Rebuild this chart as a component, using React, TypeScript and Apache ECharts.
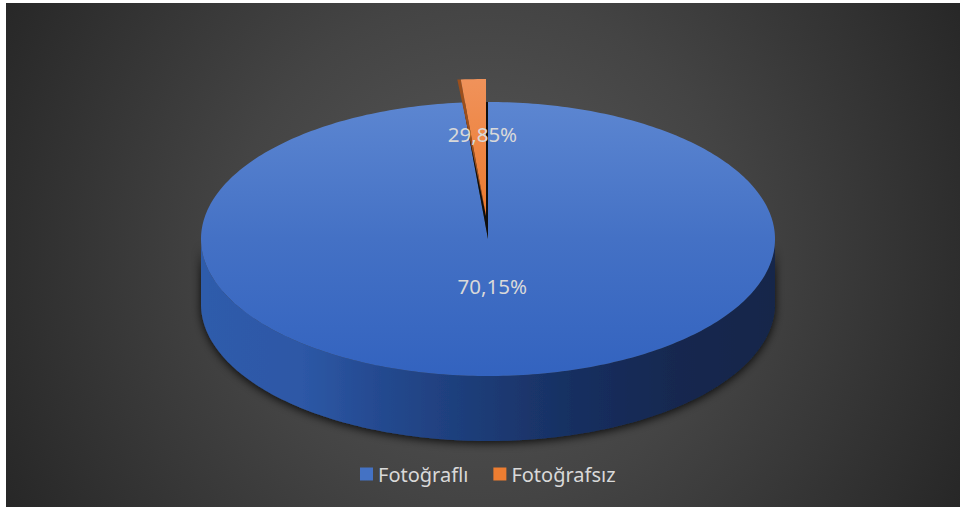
import React, { useEffect, useRef } from "react";
import * as echarts from "echarts";

// ---- data ----
const categories = ["Fotoğraflı", "Fotoğrafsız"];
const percentLabels = [70.15, 29.85]; // data labels printed on the chart
const sliceShares = [98.6, 1.4]; // wedge sizes as drawn in the picture
const legendColors = ["#4472c4", "#ed7d31"];

// ---- geometry (layout) ----
const CX = 488;
const CY = 239;
const RX = 287;
const RY = 137;
const DEPTH = 65;
const EXPLODE: number[][] = [
  [0, 0],
  [-2, -23],
];
const LABEL_R = [0.34, 0.6];

const total = sliceShares.reduce((a, b) => a + b, 0);
const starts: number[] = [];
{
  let acc = 0;
  for (const v of sliceShares) {
    starts.push((acc / total) * 360);
    acc += v;
  }
}

function pt(deg: number, ox = 0, oy = 0, dz = 0, k = 1): number[] {
  const r = (deg * Math.PI) / 180;
  return [CX + ox + k * RX * Math.sin(r), CY + oy + dz - k * RY * Math.cos(r)];
}

function arc(a0: number, a1: number, ox = 0, oy = 0, dz = 0): number[][] {
  const pts: number[][] = [];
  const n = Math.max(2, Math.ceil(Math.abs(a1 - a0) / 1));
  for (let i = 0; i <= n; i++) {
    pts.push(pt(a0 + ((a1 - a0) * i) / n, ox, oy, dz));
  }
  return pts;
}

const fmt = (v: number) => v.toFixed(2).replace(".", ",") + "%";

const FONT = "'Noto Sans', 'Open Sans', sans-serif";

function sideGradient() {
  return new echarts.graphic.LinearGradient(
    205,
    0,
    775,
    0,
    [
      { offset: 0, color: "#2f5bab" },
      { offset: 0.17, color: "#2d58a6" },
      { offset: 0.31, color: "#24498f" },
      { offset: 0.48, color: "#1d3c77" },
      { offset: 0.66, color: "#172e5f" },
      { offset: 0.83, color: "#14284f" },
      { offset: 1, color: "#13264a" },
    ],
    true
  );
}

function topGradient(i: number) {
  if (i === 1) {
    return new echarts.graphic.LinearGradient(
      0,
      80,
      0,
      216,
      [
        { offset: 0, color: "#f0925a" },
        { offset: 1, color: "#ec7a2e" },
      ],
      true
    );
  }
  return new echarts.graphic.LinearGradient(
    0,
    102,
    0,
    376,
    [
      { offset: 0, color: "#5c86d1" },
      { offset: 0.5, color: "#4471c5" },
      { offset: 1, color: "#3363bf" },
    ],
    true
  );
}

function makeRender(i: number) {
  return function renderItem(_params: any, _api: any) {
    const a0 = starts[i];
    const a1 = starts[i] + (sliceShares[i] / total) * 360;
    const [ox, oy] = EXPLODE[i];
    const children: any[] = [];

    if (i > 0) {
      // dark gap left behind by the exploded wedge
      children.push({
        type: "polygon",
        shape: { points: [[CX, CY]].concat(arc(a0, a1)) },
        style: { fill: "#0e0e0e" },
      });
    }

    // front side wall
    const lo = Math.max(a0, 90);
    const hi = Math.min(a1, 270);
    if (hi > lo) {
      const pts = arc(lo, hi, ox, oy, 0).concat(arc(hi, lo, ox, oy, DEPTH));
      children.push({
        type: "polygon",
        shape: { points: pts },
        style: {
          fill: sideGradient(),
          shadowBlur: 10,
          shadowColor: "rgba(0,0,0,0.85)",
          shadowOffsetY: 2,
        },
      });
    }

    if (i > 0) {
      // thin radial face on the left edge of the wedge
      const outer = pt(a0, ox, oy);
      children.push({
        type: "polygon",
        shape: {
          points: [
            [CX + ox, CY + oy],
            [outer[0] - 3.5, outer[1]],
            [outer[0], outer[1]],
          ],
        },
        style: { fill: "#9c4f1c" },
      });
    }

    // top face
    children.push({
      type: "polygon",
      shape: { points: [[CX + ox, CY + oy]].concat(arc(a0, a1, ox, oy, 0)) },
      style: { fill: topGradient(i) },
    });

    // data label
    const mid = (a0 + a1) / 2;
    const lp = pt(mid, ox, oy, 0, LABEL_R[i]);
    children.push({
      type: "text",
      style: {
        text: fmt(percentLabels[i]),
        x: lp[0] + (i === 1 ? 4 : 0),
        y: lp[1],
        fill: "#d9d9d9",
        fontSize: 20.5,
        fontFamily: FONT,
        align: "center",
        verticalAlign: "middle",
      },
    });

    return { type: "group", children };
  };
}

export default function App() {
  const ref = useRef<HTMLDivElement>(null);

  useEffect(() => {
    if (!ref.current) return;
    const chart = echarts.init(ref.current, undefined, { renderer: "svg" });
    chart.setOption({
      animation: false,
      backgroundColor: "#ffffff",
      graphic: [
        {
          type: "rect",
          z: -10,
          silent: true,
          shape: { x: 6, y: 3, width: 954, height: 504 },
          style: {
            fill: new echarts.graphic.RadialGradient(
              483,
              250,
              560,
              [
                { offset: 0, color: "#585858" },
                { offset: 0.45, color: "#444444" },
                { offset: 1, color: "#252525" },
              ],
              true
            ),
          },
        },
      ],
      legend: {
        data: categories,
        left: 355,
        top: 459,
        icon: "rect",
        itemWidth: 13,
        itemHeight: 13,
        itemGap: 25,
        textStyle: { color: "#d9d9d9", fontSize: 20, fontFamily: FONT },
      },
      series: categories.map((name, i) => ({
        type: "custom",
        name,
        coordinateSystem: "none",
        itemStyle: { color: legendColors[i] },
        data: [sliceShares[i]],
        renderItem: makeRender(i),
      })),
    });
    return () => chart.dispose();
  }, []);

  return (
    <div
      style={{
        position: "fixed",
        left: 0,
        top: 0,
        width: 960,
        height: 509,
        background: "#ffffff",
      }}
    >
      <div ref={ref} style={{ width: 960, height: 509 }} />
    </div>
  );
}
